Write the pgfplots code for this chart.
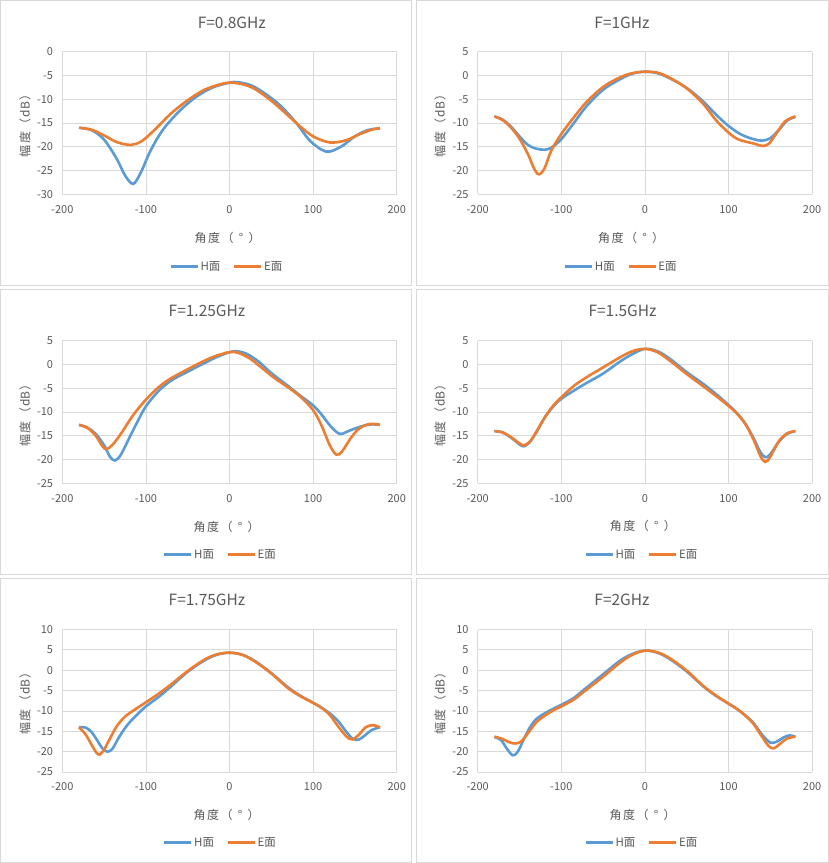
\documentclass[border=0pt]{standalone}
\usepackage{fontspec}
\setmainfont{Noto Sans CJK SC}
\usepackage{pgfplots}
\pgfplotsset{compat=1.18}
\definecolor{txt}{HTML}{595959}
\definecolor{gridc}{HTML}{D9D9D9}
\definecolor{hblue}{HTML}{5B9BD5}
\definecolor{eorange}{HTML}{ED7D31}
\pgfplotsset{
 panel/.style={
  scale only axis, width=334.4pt, height=142.5pt, anchor=south west,
  xmin=-200, xmax=200, xtick={-200,-100,0,100,200}, ytick distance=5,
  grid=major, grid style={gridc, line width=0.8pt},
  axis line style={draw=none},
  major tick length=0pt,
  tick label style={font=\fontsize{11}{13}\selectfont, text=txt, inner sep=0pt},
  xticklabel style={anchor=center, yshift=-15pt},
  yticklabel style={anchor=east, xshift=-9pt},
  /pgf/number format/assume math mode=true,
  legend columns=2,
  legend style={draw=none, fill=none, font=\fontsize{11.5}{13}\selectfont, text=txt, anchor=center,
    /tikz/every even column/.append style={column sep=11pt}, nodes={inner sep=1.5pt}},
  legend image code/.code={\draw[##1, line width=2.6pt] (0pt,0pt) -- (27pt,0pt);},
 },
 hline/.style={color=hblue, smooth, tension=0.55, line width=2.6pt, no markers},
 eline/.style={color=eorange, smooth, tension=0.55, line width=2.6pt, no markers},
}
\newcommand{\cb}[1]{\makebox[13.5pt]{#1}}
\newcommand{\ttl}[3]{\node[font=\fontsize{15.5}{18}\selectfont, text=txt] at (#1pt,#2pt) {#3};}
\newcommand{\xlab}[2]{\node[font=\fontsize{12}{14}\selectfont, text=txt, inner sep=0pt] at (#1pt,#2pt) {\cb{角}\cb{度}\cb{（}\cb{°}\cb{）}};}
\newcommand{\ylab}[2]{\node[font=\fontsize{12}{14}\selectfont, text=txt, rotate=90, inner sep=0pt] at (#1pt,#2pt) {\cb{幅}\cb{度}\cb{（}\makebox[16pt]{dB}\cb{）}};}
\begin{document}
\begin{tikzpicture}
\path (0pt,0pt) rectangle (829pt,863pt);
\draw[gridc, line width=0.8pt] (0.5pt,578pt) rectangle (411pt,862.5pt);
\draw[gridc, line width=0.8pt] (416pt,578pt) rectangle (828pt,862.5pt);
\draw[gridc, line width=0.8pt] (0.5pt,289pt) rectangle (411pt,573.5pt);
\draw[gridc, line width=0.8pt] (416pt,289pt) rectangle (828pt,573.5pt);
\draw[gridc, line width=0.8pt] (0.5pt,1pt) rectangle (411pt,284.5pt);
\draw[gridc, line width=0.8pt] (416pt,1pt) rectangle (828pt,284.5pt);

% Panel 1
\begin{axis}[panel, at={(62.3pt,668.7pt)}, ymin=-30, ymax=0, legend style={at={(0.4916,-0.508)}}]
\addplot[hline] coordinates {(-180,-16.0) (-165,-16.5) (-150,-18.5) (-135,-22.5) (-125,-26) (-115,-27.8) (-105,-25) (-95,-21) (-80,-16.5) (-60,-12.5) (-40,-9.5) (-20,-7.5) (0,-6.5) (10,-6.4) (25,-7.0) (40,-8.5) (60,-11.2) (80,-15) (95,-18.5) (110,-20.6) (120,-21) (135,-19.8) (150,-17.8) (165,-16.5) (180,-16.1)};
\addlegendentry{H面}
\addplot[eline] coordinates {(-180,-16) (-165,-16.4) (-150,-17.6) (-135,-19) (-118,-19.6) (-105,-18.8) (-90,-16.5) (-70,-13.0) (-50,-10.2) (-30,-8.0) (-10,-6.8) (0,-6.5) (15,-6.8) (30,-7.8) (50,-10.3) (70,-13.4) (85,-15.8) (100,-17.8) (115,-18.9) (125,-19.1) (140,-18.6) (155,-17.4) (170,-16.4) (180,-16.1)};
\addlegendentry{E面}
\end{axis}
\ttl{231.8}{839.7}{F=0.8GHz}
\xlab{227.5}{624.7}
\ylab{25}{740}

% Panel 2
\begin{axis}[panel, at={(477.7pt,668.7pt)}, ymin=-25, ymax=5, legend style={at={(0.4285,-0.508)}}]
\addplot[hline] coordinates {(-180,-8.6) (-170,-9.3) (-160,-10.8) (-150,-12.8) (-140,-14.6) (-130,-15.4) (-120,-15.6) (-112,-15.2) (-100,-13.4) (-85,-10.0) (-70,-6.5) (-50,-3.0) (-30,-0.8) (-15,0.4) (0,0.8) (15,0.5) (30,-0.6) (50,-2.6) (70,-5.5) (85,-8.2) (100,-10.6) (115,-12.4) (130,-13.4) (140,-13.7) (150,-13.2) (160,-11.5) (170,-9.5) (180,-8.7)};
\addlegendentry{H面}
\addplot[eline] coordinates {(-180,-8.6) (-170,-9.4) (-160,-11) (-150,-13.3) (-140,-16.5) (-133,-19.4) (-127,-20.8) (-120,-19.5) (-112,-15.8) (-100,-12.3) (-85,-8.8) (-70,-5.6) (-50,-2.4) (-30,-0.4) (-15,0.5) (0,0.8) (15,0.6) (30,-0.5) (50,-2.7) (70,-6.0) (85,-9.4) (100,-12.0) (110,-13.3) (120,-13.9) (130,-14.3) (140,-14.8) (148,-14.4) (158,-12) (168,-9.6) (180,-8.6)};
\addlegendentry{E面}
\end{axis}
\ttl{622}{839.7}{F=1GHz}
\xlab{631.2}{624.7}
\ylab{440}{740}

% Panel 3
\begin{axis}[panel, at={(62.3pt,379.7pt)}, ymin=-25, ymax=5, legend style={at={(0.4725,-0.501)}}]
\addplot[hline] coordinates {(-180,-12.7) (-170,-13.3) (-160,-14.6) (-150,-17.0) (-143,-19.4) (-137,-20.2) (-130,-19.0) (-120,-15.5) (-110,-12.0) (-100,-8.8) (-85,-5.6) (-70,-3.4) (-50,-1.5) (-30,0.3) (-15,1.6) (0,2.6) (8,2.8) (20,2.3) (35,0.6) (50,-1.8) (70,-4.5) (85,-6.6) (100,-8.6) (110,-10.5) (120,-12.8) (128,-14.2) (134,-14.6) (145,-13.8) (160,-12.9) (170,-12.6) (180,-12.7)};
\addlegendentry{H面}
\addplot[eline] coordinates {(-180,-12.7) (-170,-13.3) (-160,-15.0) (-152,-17.2) (-147,-17.8) (-140,-16.9) (-130,-14.6) (-115,-10.6) (-100,-7.4) (-85,-4.8) (-70,-2.9) (-50,-1.0) (-30,0.8) (-15,1.9) (0,2.6) (10,2.5) (25,1.2) (40,-0.9) (55,-3.0) (70,-4.8) (85,-6.8) (100,-9.6) (110,-12.8) (120,-17.0) (128,-19.0) (135,-18.2) (145,-15.5) (155,-13.5) (168,-12.5) (180,-12.7)};
\addlegendentry{E面}
\end{axis}
\ttl{207}{551.7}{F=1.25GHz}
\xlab{226.5}{335.7}
\ylab{25}{450.5}

% Panel 4
\begin{axis}[panel, at={(477.7pt,379.7pt)}, ymin=-25, ymax=5, legend style={at={(0.4904,-0.501)}}]
\addplot[hline] coordinates {(-180,-14.0) (-170,-14.3) (-160,-15.4) (-150,-16.8) (-145,-17.2) (-138,-16.4) (-130,-14.3) (-120,-11.2) (-110,-8.9) (-100,-7.2) (-85,-5.5) (-70,-3.9) (-50,-1.9) (-30,0.6) (-15,2.2) (0,3.3) (15,2.8) (30,1.2) (50,-1.6) (70,-4.1) (85,-6.2) (100,-8.5) (110,-10.2) (120,-12.4) (130,-15.5) (138,-18.4) (144,-19.5) (150,-18.9) (160,-16.3) (170,-14.6) (180,-14.0)};
\addlegendentry{H面}
\addplot[eline] coordinates {(-180,-14.0) (-170,-14.3) (-160,-15.3) (-150,-16.6) (-145,-17.0) (-138,-16.3) (-130,-14.2) (-120,-11.2) (-110,-8.7) (-100,-6.9) (-85,-4.5) (-70,-2.7) (-50,-0.6) (-30,1.5) (-15,2.8) (0,3.3) (15,2.6) (30,0.8) (50,-2.0) (70,-4.6) (85,-6.6) (100,-8.7) (110,-10.3) (120,-12.5) (130,-15.8) (138,-19.2) (144,-20.5) (150,-19.4) (160,-16.2) (170,-14.5) (180,-14.0)};
\addlegendentry{E面}
\end{axis}
\ttl{622.5}{551.7}{F=1.5GHz}
\xlab{642.8}{336.7}
\ylab{440}{450.5}

% Panel 5
\begin{axis}[panel, at={(62.3pt,91.0pt)}, ymin=-25, ymax=10, legend style={at={(0.4725,-0.496)}}]
\addplot[hline] coordinates {(-180,-14.0) (-172,-14.1) (-165,-15.2) (-158,-17.3) (-152,-19.2) (-146,-20.0) (-140,-19.3) (-132,-16.4) (-122,-13.4) (-110,-10.8) (-100,-8.9) (-85,-6.6) (-70,-4.0) (-50,-0.4) (-30,2.4) (-15,3.8) (0,4.3) (15,3.8) (30,2.3) (50,-0.7) (70,-4.2) (85,-6.3) (100,-8.0) (110,-9.2) (120,-10.6) (130,-12.5) (140,-15.2) (148,-16.9) (155,-17.0) (162,-16.0) (170,-14.7) (180,-14.0)};
\addlegendentry{H面}
\addplot[eline] coordinates {(-180,-14.0) (-172,-15.8) (-165,-18.3) (-159,-20.3) (-155,-20.7) (-150,-19.5) (-143,-16.8) (-135,-13.8) (-125,-11.4) (-112,-9.5) (-100,-7.9) (-85,-5.8) (-70,-3.5) (-50,-0.2) (-30,2.6) (-15,3.9) (0,4.3) (15,3.8) (30,2.2) (50,-0.8) (70,-4.4) (85,-6.4) (100,-8.0) (110,-9.2) (120,-11.0) (130,-13.8) (140,-16.3) (147,-17.0) (155,-15.8) (163,-14.0) (172,-13.5) (180,-14.1)};
\addlegendentry{E面}
\end{axis}
\ttl{207}{263}{F=1.75GHz}
\xlab{226.5}{47.7}
\ylab{25}{162.5}

% Panel 6
\begin{axis}[panel, at={(477.7pt,91.0pt)}, ymin=-25, ymax=10, legend style={at={(0.4904,-0.496)}}]
\addplot[hline] coordinates {(-180,-16.4) (-172,-17.2) (-165,-19.3) (-158,-20.9) (-152,-20.0) (-145,-17.0) (-138,-14.2) (-130,-12.0) (-120,-10.6) (-110,-9.5) (-100,-8.5) (-85,-6.8) (-70,-4.3) (-50,-1.0) (-30,2.3) (-15,4.0) (0,4.8) (15,4.3) (30,2.7) (50,-0.3) (70,-4.0) (85,-6.3) (100,-8.2) (110,-9.5) (120,-11.1) (130,-13.0) (140,-15.8) (150,-17.8) (158,-17.5) (166,-16.5) (173,-16.0) (180,-16.3)};
\addlegendentry{H面}
\addplot[eline] coordinates {(-180,-16.3) (-170,-16.9) (-162,-17.7) (-155,-18.0) (-148,-17.5) (-140,-15.5) (-130,-12.8) (-120,-11.2) (-110,-9.9) (-100,-8.9) (-85,-7.2) (-70,-4.8) (-50,-1.6) (-30,1.8) (-15,3.8) (0,4.8) (15,4.4) (30,2.9) (50,-0.1) (70,-3.9) (85,-6.2) (100,-8.2) (110,-9.5) (120,-11.1) (130,-13.2) (140,-16.3) (148,-18.6) (154,-19.2) (162,-18.0) (170,-16.8) (180,-16.3)};
\addlegendentry{E面}
\end{axis}
\ttl{622}{263}{F=2GHz}
\xlab{642.5}{47.7}
\ylab{440}{162.5}
\end{tikzpicture}
\end{document}
